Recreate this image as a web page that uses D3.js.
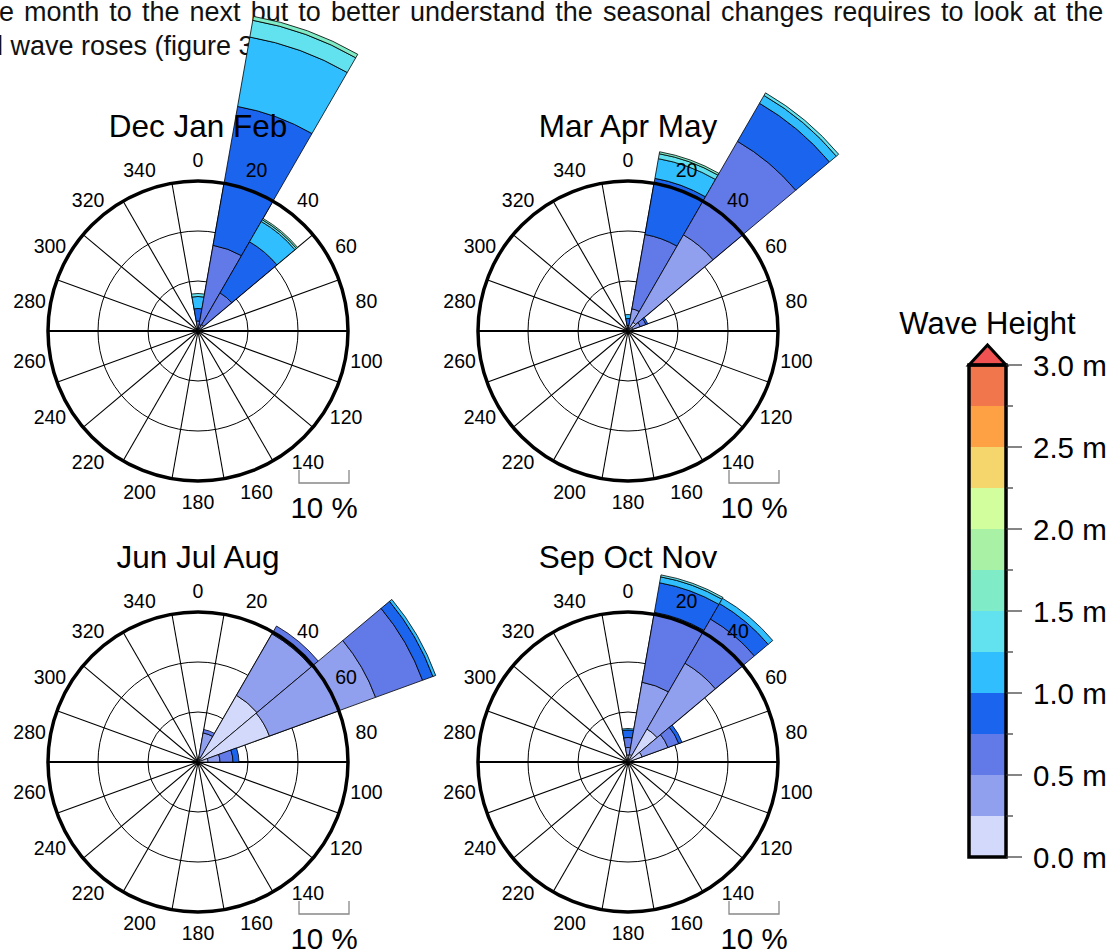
<!DOCTYPE html>
<html>
<head>
<meta charset="utf-8">
<script src="https://cdn.jsdelivr.net/npm/d3@7"></script>
<style>
body { margin: 0; background: #fff; }
svg { display: block; font-family: "Liberation Sans", Arial, sans-serif; }
</style>
</head>
<body>
<svg id="chart" width="1119" height="951"></svg>
<script>
// wave height classes (m) and their colours
var heightBins = [0, 0.25, 0.5, 0.75, 1.0, 1.25, 1.5, 1.75, 2.0, 2.25, 2.5, 2.75, 3.0];
var binColors = ["#D2D9FA", "#909FEE", "#6279E8", "#1A64EE", "#30BEFE", "#62E2EE",
                 "#7FEBC7", "#A9F2A5", "#D3FE9E", "#F5D66C", "#FEA044", "#F2764C"];
var overColor = "#F05252";

var dirLabels = [0, 20, 40, 60, 80, 100, 120, 140, 160, 180, 200, 220, 240, 260, 280, 300, 320, 340];
var cbTicks = [0, 0.5, 1.0, 1.5, 2.0, 2.5, 3.0];

// [direction, % per height class starting at 0-0.25 m]
var djf = [
  [0, 0, 0.4, 1.6, 2.5, 2.4, 0.6],
  [20, 0.3, 1.0, 16.1, 28.2, 14.1, 3.4, 0.8],
  [40, 0.3, 1.2, 7.3, 11.8, 4.7, 0.4, 0.3]
];
var mam = [
  [0, 0, 0.3, 0.8, 1.4, 0.8],
  [20, 0.5, 4.0, 15.1, 11.4, 4.0, 1.0, 0.4],
  [40, 2.0, 20.2, 21.6, 8.8, 1.8, 0.6],
  [60, 1.0, 1.6, 1.2, 0.4]
];
var jja = [
  [20, 1.0, 4.9, 0.7],
  [40, 15.4, 14.2, 1.8],
  [60, 15.2, 22.6, 10.0, 2.2, 0.6],
  [80, 2.0, 2.4, 2.6, 1.2]
];
var son = [
  [0, 1.4, 1.5, 2.0, 1.5, 0.3],
  [20, 1.5, 14.7, 14.2, 6.0, 1.2, 0.4],
  [40, 7.6, 15.2, 10.2, 3.6, 1.2],
  [60, 3.0, 5.5, 2.3, 0.7]
];

var seasons = [
  {title: "Dec Jan Feb", data: djf, cx: 198, cy: 331},
  {title: "Mar Apr May", data: mam, cx: 628, cy: 331},
  {title: "Jun Jul Aug", data: jja, cx: 198, cy: 762},
  {title: "Sep Oct Nov", data: son, cx: 628, cy: 762}
];

var svg = d3.select("#chart");
var rad = Math.PI / 180;
var r = d3.scaleLinear().domain([0, 30]).range([0, 150]);

// background text of the document (justified paragraph)
var para = svg.append("g").attr("font-size", 27).attr("fill", "#111");
para.append("text").attr("x", -1).attr("y", 21).attr("word-spacing", 2.6)
  .text("e month to the next but to better understand the seasonal changes requires to look at the");
para.append("text").attr("x", -12).attr("y", 55)
  .text("d wave roses (figure 3)");

var arc = d3.arc();

seasons.forEach(function(s) {
  var g = svg.append("g").attr("transform", "translate(" + s.cx + "," + s.cy + ")");

  // grid
  g.selectAll("circle.grid").data([10, 20]).enter().append("circle")
    .attr("r", function(d) { return r(d); })
    .attr("fill", "none").attr("stroke", "#000").attr("stroke-width", 1);
  var spokes = d3.range(18).map(function(i) { return 10 + 20 * i; });
  g.selectAll("line.spoke").data(spokes).enter().append("line")
    .attr("x1", 0).attr("y1", 0)
    .attr("x2", function(d) { return r(30) * Math.sin(d * rad); })
    .attr("y2", function(d) { return -r(30) * Math.cos(d * rad); })
    .attr("stroke", "#000")
    .attr("stroke-width", function(d) { return (d == 90 || d == 270) ? 1.8 : 1.1; });

  // stacked wedges
  var pieces = [];
  s.data.forEach(function(row) {
    var dir = row[0], cum = 0;
    row.slice(1).forEach(function(v, i) {
      if (v > 0) pieces.push({dir: dir, lo: cum, hi: cum + v, bin: i});
      cum += v;
    });
  });
  g.selectAll("path.band").data(pieces).enter().append("path")
    .attr("d", function(d) {
      return arc({innerRadius: r(d.lo), outerRadius: r(d.hi),
                  startAngle: (d.dir - 10) * rad, endAngle: (d.dir + 10) * rad});
    })
    .attr("fill", function(d) { return binColors[d.bin]; })
    .attr("stroke", "#000").attr("stroke-width", 0.8);

  // outer ring
  g.append("circle").attr("r", r(30))
    .attr("fill", "none").attr("stroke", "#000").attr("stroke-width", 3.5);

  // direction labels
  g.selectAll("text.dir").data(dirLabels).enter().append("text")
    .attr("x", function(d) { return 171 * Math.sin(d * rad); })
    .attr("y", function(d) { return -171 * Math.cos(d * rad); })
    .attr("text-anchor", "middle").attr("dominant-baseline", "central")
    .attr("font-size", 19.5)
    .text(function(d) { return d; });

  g.append("text").attr("x", 0).attr("y", -194)
    .attr("text-anchor", "middle").attr("font-size", 31.5)
    .text(s.title);

  // 10 % scale bar
  var x0 = 101, x1 = 101 + r(10);
  g.append("path")
    .attr("d", "M" + x0 + ",139V152H" + x1 + "V139")
    .attr("fill", "none").attr("stroke", "#888").attr("stroke-width", 1.3);
  g.append("text").attr("x", (x0 + x1) / 2).attr("y", 187)
    .attr("text-anchor", "middle").attr("font-size", 29.5)
    .text("10 %");
});

// colour bar
var cy = d3.scaleLinear().domain([0, 3]).range([857, 365]);
var cbx = 969, cbw = 37;
var cb = svg.append("g");
cb.selectAll("rect").data(binColors).enter().append("rect")
  .attr("x", cbx).attr("width", cbw)
  .attr("y", function(d, i) { return cy(heightBins[i + 1]); })
  .attr("height", function(d, i) { return cy(heightBins[i]) - cy(heightBins[i + 1]); })
  .attr("fill", function(d) { return d; });
cb.append("path")
  .attr("d", "M" + cbx + "," + cy(3) + "L" + (cbx + cbw / 2) + "," + (cy(3) - 20) + "L" + (cbx + cbw) + "," + cy(3) + "Z")
  .attr("fill", overColor).attr("stroke", "#000").attr("stroke-width", 3).attr("stroke-linejoin", "miter");
cb.append("rect").attr("x", cbx).attr("y", cy(3)).attr("width", cbw).attr("height", cy(0) - cy(3))
  .attr("fill", "none").attr("stroke", "#000").attr("stroke-width", 3.5);

var minor = d3.range(0.25, 3, 0.5);
cb.selectAll("line.minor").data(minor).enter().append("line")
  .attr("x1", cbx + cbw).attr("x2", cbx + cbw + 7)
  .attr("y1", function(d) { return cy(d); }).attr("y2", function(d) { return cy(d); })
  .attr("stroke", "#333").attr("stroke-width", 1.2);
cb.selectAll("line.major").data(cbTicks).enter().append("line")
  .attr("x1", cbx + cbw).attr("x2", cbx + cbw + 16)
  .attr("y1", function(d) { return cy(d); }).attr("y2", function(d) { return cy(d); })
  .attr("stroke", "#333").attr("stroke-width", 1.2);
cb.selectAll("text.tick").data(cbTicks).enter().append("text")
  .attr("x", 1033).attr("y", function(d) { return cy(d); })
  .attr("dominant-baseline", "central").attr("font-size", 29.5)
  .text(function(d) { return d.toFixed(1) + " m"; });
cb.append("text").attr("x", 987.5).attr("y", 334)
  .attr("text-anchor", "middle").attr("font-size", 31)
  .text("Wave Height");
</script>
</body>
</html>
